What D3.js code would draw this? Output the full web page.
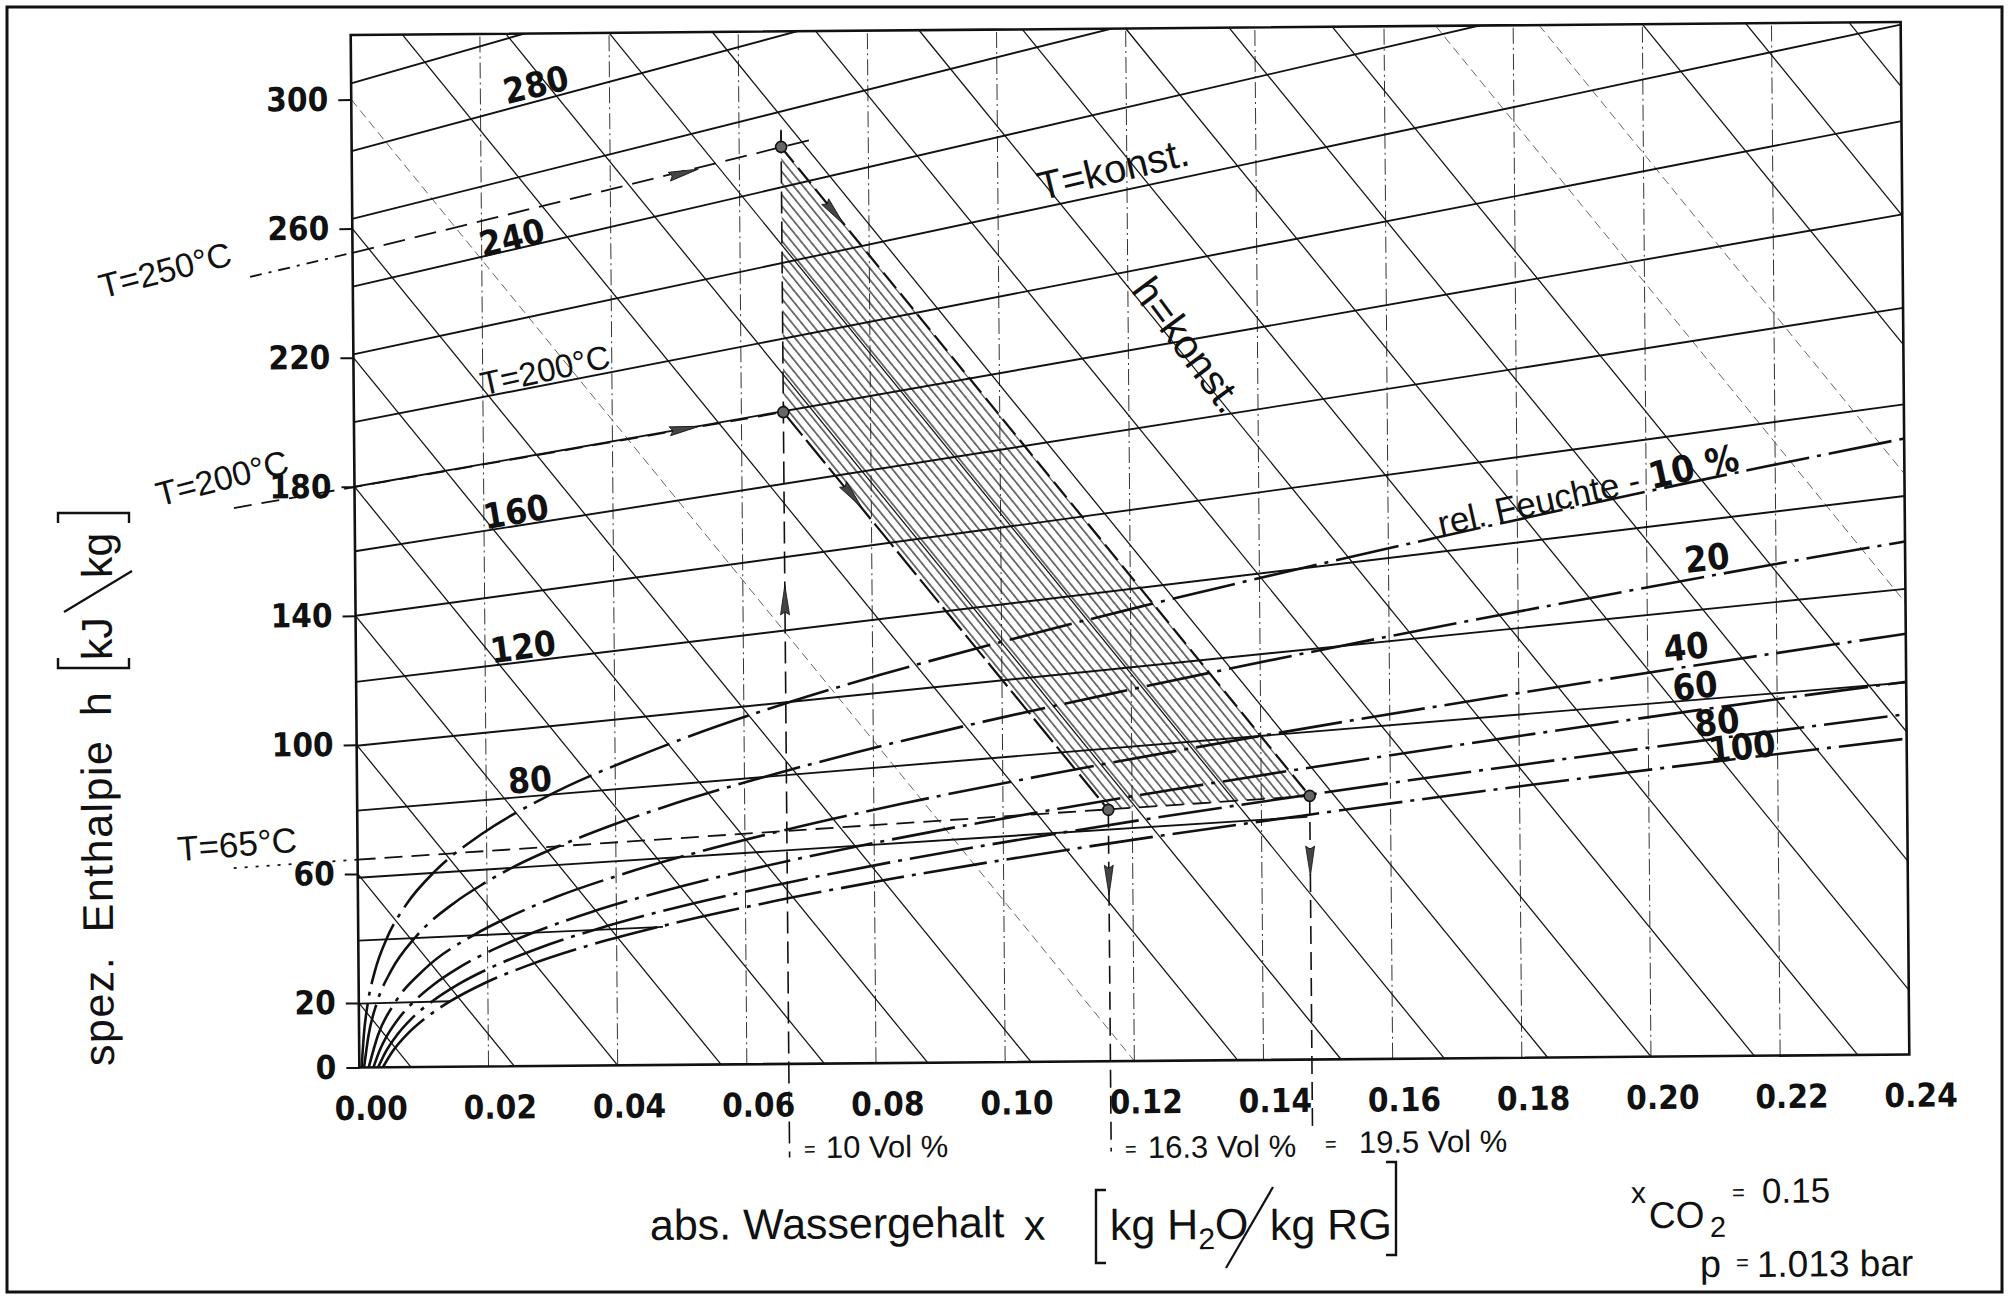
<!DOCTYPE html>
<html><head><meta charset="utf-8">
<script src="https://cdn.jsdelivr.net/npm/d3@7"></script>
<style>html,body{margin:0;padding:0;background:#fff}svg{display:block}</style>
</head><body>
<svg id="c" width="2016" height="1296"></svg>
<script>
// ================= DATA =================
const xTicks=[0,0.02,0.04,0.06,0.08,0.10,0.12,0.14,0.16,0.18,0.20,0.22,0.24];
const xTickLabels=["0.00","0.02","0.04","0.06","0.08","0.10","0.12","0.14","0.16","0.18","0.20","0.22","0.24"];
const yTicks=[0,20,60,100,140,180,220,260,300];
const yTickLabels=["0","20","60","100","140","180","220","260","300"];

// lines of constant enthalpy h (kJ/kg)
const hLines=[20,60,100,140,180,220,260,300,340,380,420,460,500,540,580,620,660,700,740,780,820,860,900];
const hFaint=[300,740,780];

// isotherms (T in °C): value at x=0 and at the end point
const isoT=[20,40,60,80,100,120,140,160,180,200,220,240,260,280,300];
const isoY0=[19.8,39.3,58.8,79.6,99.7,119.5,140,160,180,200,221,242,263,284,305];
const isoXend=[0.0142,0.0472,0.1471,0.24,0.24,0.24,0.24,0.24,0.24,0.24,0.24,0.24,0.24,0.24,0.24];
const isoYend=[20.3,42.8,75.2,115.3,144.3,173.1,201.5,231.4,260.4,289.3,319.2,349.1,379.1,409.0,438.9];

// relative humidity curves [x, h-value]
const phiLevels=[10,20,40,60,80,100];
const phi10=[[0.00036,0],[0.00073,9.9],[0.00139,19.9],[0.00253,29.8],[0.00441,39.9],[0.00741,50.2],[0.01205,60.8],[0.01907,71.8],[0.02946,83.6],[0.04466,96.6],[0.06676,111.9],[0.08131,120.4],[0.09893,129.7],[0.1203,140.2],[0.14638,152.2],[0.17845,166.1],[0.21832,182.5],[0.24,190.9]];
const phi20=[[0.00073,0],[0.00146,9.9],[0.00278,19.9],[0.00507,30.0],[0.00888,40.3],[0.015,50.9],[0.01927,56.4],[0.0246,62.2],[0.03121,68.1],[0.03939,74.4],[0.04949,81.2],[0.06197,88.4],[0.07739,96.4],[0.09651,105.3],[0.12033,115.3],[0.15022,127.2],[0.18812,141.2],[0.23691,158.0],[0.24,159.0]];
const phi40=[[0.00145,0],[0.00292,9.95],[0.00559,20.0],[0.01023,30.3],[0.01802,40.9],[0.02363,46.5],[0.03076,52.4],[0.03982,58.5],[0.0513,65.1],[0.06584,72.3],[0.08431,80.3],[0.10788,89.3],[0.13821,99.8],[0.1777,112.3],[0.23002,127.6],[0.24,130.4]];
const phi60=[[0.00218,0],[0.00312,5.0],[0.0044,10.0],[0.00612,15.0],[0.00843,20.1],[0.01148,25.3],[0.01548,30.6],[0.02069,36.0],[0.02744,41.6],[0.03615,47.6],[0.04736,53.9],[0.06178,60.8],[0.08038,68.4],[0.10449,77.0],[0.13602,87.0],[0.1778,99.1],[0.23431,114.1],[0.24,115.5]];
const phi80=[[0.00291,0],[0.00416,5.0],[0.00588,10.0],[0.00819,15.1],[0.01129,20.2],[0.01541,25.5],[0.02082,30.9],[0.02791,36.5],[0.03716,42.4],[0.04919,48.7],[0.06485,55.5],[0.0853,63.2],[0.11218,71.9],[0.1479,82.2],[0.19618,94.8],[0.24,105.5]];
const phi100=[[0.00364,0],[0.00521,5.0],[0.00736,10.0],[0.01028,15.1],[0.01418,20.3],[0.01938,25.7],[0.02625,31.2],[0.0353,37.0],[0.04718,43.1],[0.06277,49.8],[0.08331,57.3],[0.11055,65.8],[0.14711,75.8],[0.19702,88.2],[0.24,97.9]];
const phiLabels=["20","40","60","80","100"];

// process points
const P1=[0.0665,284.2], P2=[0.0665,202.0], P3=[0.1163,77.9], P4=[0.1475,81.7];
const lineT250=[[-0.0159,245.3],[0.0715,286.5]];
const lineT180=[[-0.0187,173.7],[0.0665,202.0]];
const lineT65=[[-0.0192,62.1],[0.1475,81.7]];
const vLine10=[[0.0665,289],[0.0665,-29]];
const vLine163=[[0.1163,77.9],[0.1163,-28]];
const vLine195=[[0.1475,81.7],[0.1475,-21]];
// arrows: [position, a point it points towards]
const arrowMarks=[
  [[0.0514,276.4],[0.0715,286.5]],
  [[0.0512,197.1],[0.0665,202.0]],
  [[0.0665,143.8],[0.0665,200]],
  [[0.0747,263.5],[0.1475,81.7]],
  [[0.0771,175.8],[0.1163,77.9]],
  [[0.1163,56.1],[0.1163,0]],
  [[0.1475,61.5],[0.1475,0]]
];

// ================= DRAW =================
const W=2016,H=1296;
const FN="'Liberation Sans Narrow','Arial Narrow','DejaVu Sans Condensed',sans-serif";
const FR="'Liberation Sans',Arial,'DejaVu Sans',sans-serif";
const INK="#111";
const svg=d3.select('#c');
svg.append('rect').attr('width',W).attr('height',H).attr('fill','#fff');
svg.append('rect').attr('x',7).attr('y',7).attr('width',1995).attr('height',1285)
  .attr('fill','none').attr('stroke',INK).attr('stroke-width',3);

const ROT=-0.48, RC=[1130,545];
const g=svg.append('g').attr('transform',`rotate(${ROT},${RC[0]},${RC[1]})`);
function unrot(px,py){
  const a=-ROT*Math.PI/180, dx=px-RC[0], dy=py-RC[1];
  return [RC[0]+dx*Math.cos(a)-dy*Math.sin(a), RC[1]+dx*Math.sin(a)+dy*Math.cos(a)];
}

const X=d3.scaleLinear().domain([0,0.24]).range([355,1905]);
const Y=d3.scaleLinear().domain([0,320]).range([1061,28.5]);
const line=d3.line().x(d=>X(d[0])).y(d=>Y(d[1]));
const curve=d3.line().x(d=>X(d[0])).y(d=>Y(d[1])).curve(d3.curveMonotoneX);

const defs=svg.append('defs');
defs.append('clipPath').attr('id','plot').append('rect')
  .attr('x',X(0)).attr('y',Y(320)).attr('width',X(0.24)-X(0)).attr('height',Y(0)-Y(320));
// hatch pattern parallel to h = const lines
const hdx=X(0.01)-X(0), hdy=Y(0)-Y(25);
const hAng=Math.atan2(hdy,hdx)*180/Math.PI;
const pat=defs.append('pattern').attr('id','hatch').attr('patternUnits','userSpaceOnUse')
  .attr('width',7.3).attr('height',30).attr('patternTransform',`rotate(${hAng-90})`);
pat.append('line').attr('x1',3.6).attr('x2',3.6).attr('y1',-1).attr('y2',31)
  .attr('stroke',INK).attr('stroke-width',1.15);

const pg=g.append('g').attr('clip-path','url(#plot)');

// vertical grid
pg.selectAll('.vg').data(xTicks.filter(d=>d>0&&d<0.24)).enter().append('line')
  .attr('x1',d=>X(d)).attr('x2',d=>X(d)).attr('y1',Y(0)).attr('y2',Y(320))
  .attr('stroke','#333').attr('stroke-width',1).attr('stroke-dasharray','16,4,2,4');

// h = const lines
const K=2500;
function hSeg(h){
  const a=h<=320?[0,h]:[(h-320)/K,320];
  const yr=h-K*0.24;
  const b=yr>=0?[0.24,yr]:[h/K,0];
  return [a,b];
}
pg.selectAll('.hl').data(hLines).enter().append('path')
  .attr('d',d=>line(hSeg(d))).attr('fill','none')
  .attr('stroke',d=>hFaint.includes(d)?'#555':INK)
  .attr('stroke-width',d=>hFaint.includes(d)?0.9:1.25)
  .attr('stroke-dasharray',d=>hFaint.includes(d)?'9,5':null);

// isotherms
pg.selectAll('.iso').data(isoT.map((t,i)=>[[0,isoY0[i]],[isoXend[i],isoYend[i]]])).enter().append('path')
  .attr('d',d=>line(d)).attr('fill','none').attr('stroke',INK).attr('stroke-width',1.9);

// hatched process area
pg.append('path').attr('d',line([P1,P4,P3,P2])+'Z').attr('fill','url(#hatch)').attr('stroke','none');

// relative humidity curves
const phiData=[phi10,phi20,phi40,phi60,phi80,phi100];
pg.selectAll('.phi').data(phiData).enter().append('path')
  .attr('d',d=>curve(d)).attr('fill','none').attr('stroke',INK).attr('stroke-width',2.6)
  .attr('stroke-dasharray','64,8,4,8');

// process boundary lines
pg.append('path').attr('d',line([P1,P4])).attr('fill','none').attr('stroke',INK).attr('stroke-width',2).attr('stroke-dasharray','20,7');
pg.append('path').attr('d',line([P2,P3])).attr('fill','none').attr('stroke',INK).attr('stroke-width',2.2).attr('stroke-dasharray','30,6');

// leader lines (extend outside plot)
function dashed(pts,dash,w){g.append('path').attr('d',line(pts)).attr('fill','none').attr('stroke',INK).attr('stroke-width',w||1.8).attr('stroke-dasharray',dash);}
dashed([lineT250[0],[0,252.5]],'12,7,3,7');
dashed([[0,252.5],lineT250[1]],'22,10');
dashed(lineT180,'18,10');
dashed([lineT65[0],[0,64.4]],'3,8');
dashed([[0,64.4],lineT65[1]],'18,9');
dashed(vLine10,'22,8',1.6);
dashed(vLine163,'18,8',1.6);
dashed(vLine195,'18,8',1.6);
g.append('path').attr('d',line([P1,[0.0665,289.5]])).attr('stroke',INK).attr('stroke-width',1.6);

// points
g.selectAll('.pt').data([P1,P2,P3,P4]).enter().append('circle')
  .attr('cx',d=>X(d[0])).attr('cy',d=>Y(d[1])).attr('r',5.5)
  .attr('fill','#666').attr('stroke',INK).attr('stroke-width',1.6);

// arrows
arrowMarks.forEach(([p,q])=>{
  const x0=X(p[0]),y0=Y(p[1]),ang=Math.atan2(Y(q[1])-y0,X(q[0])-x0)*180/Math.PI;
  g.append('path').attr('d','M15,0 L-15,-4.5 L-12,0 L-15,4.5 Z')
   .attr('transform',`translate(${x0},${y0}) rotate(${ang})`)
   .attr('fill','#444').attr('stroke',INK).attr('stroke-width',0.8);
});

// plot frame
g.append('rect').attr('x',X(0)).attr('y',Y(320)).attr('width',X(0.24)-X(0)).attr('height',Y(0)-Y(320))
  .attr('fill','none').attr('stroke',INK).attr('stroke-width',2.6);

// axes
const ya=g.append('g').attr('transform',`translate(${X(0)},0)`)
  .call(d3.axisLeft(Y).tickValues(yTicks).tickFormat((d,i)=>yTickLabels[i]).tickSize(13).tickPadding(10).tickSizeOuter(0));
ya.select('.domain').remove();
ya.selectAll('line').attr('stroke',INK).attr('stroke-width',2);
ya.selectAll('text').attr('font-family',FN).attr('font-weight','bold').attr('font-size',33).attr('fill',INK);

const xa=g.append('g').attr('transform',`translate(0,${Y(0)})`)
  .call(d3.axisBottom(X).tickValues(xTicks).tickFormat((d,i)=>xTickLabels[i]).tickSize(0).tickPadding(29).tickSizeOuter(0));
xa.select('.domain').remove();
xa.selectAll('text').attr('dx',11).attr('font-family',FN).attr('font-weight','bold').attr('font-size',33).attr('fill',INK);

// ---- labels ----
function lab(t,mx,my,rot,size,weight,fam){
  const p=unrot(mx,my);
  return g.append('text').attr('transform',`translate(${p[0]},${p[1]}) rotate(${rot})`)
   .attr('text-anchor','middle').attr('dominant-baseline','central')
   .attr('font-size',size).attr('font-weight',weight).attr('font-family',fam).attr('fill',INK).text(t);
}
function labS(t,mx,my,size,weight,fam){
  const p=unrot(mx,my);
  return g.append('text').attr('x',p[0]).attr('y',p[1]).attr('font-size',size)
   .attr('font-weight',weight).attr('font-family',fam).attr('fill',INK).text(t);
}
lab('280',536,85,-13,35,'bold',FN);
lab('240',512,238,-13,35,'bold',FN);
lab('T=200°C',545,370,-12,33,'normal',FR);
lab('160',516,512,-9,35,'bold',FN);
lab('120',523,647,-7,35,'bold',FN);
lab('80',530,780,-4,35,'bold',FN);
lab('T=250°C',165,270,-14,34,'normal',FR);
lab('T=200°C',222,478,-14,34,'normal',FR);
lab('T=65°C',237,844,-4,35,'normal',FR);
lab('T=konst.',1113,169,-13,40,'normal',FR);
lab('h=konst.',1188,345,54,41,'normal',FR);
const rf=lab('',1588,490,-12,35,'normal',FR);
rf.append('tspan').text('rel. Feuchte - ');
rf.append('tspan').attr('font-weight','bold').attr('font-family',FN).attr('font-size',37).text('10 %');
const phiLabPos=[[1707,558],[1686,647],[1695,686],[1717,722],[1742,747]];
phiLabels.forEach((t,i)=>lab(t,phiLabPos[i][0],phiLabPos[i][1],-6,36,'bold',FN));

// vol % labels
labS('=',804,1156,20,'normal',FR); labS('10 Vol %',826,1158,31,'normal',FR);
labS('=',1125,1156,20,'normal',FR); labS('16.3 Vol %',1148,1158,31,'normal',FR);
labS('=',1325,1151,20,'normal',FR); labS('19.5 Vol %',1359,1153,31,'normal',FR);

// x axis title
labS('abs. Wassergehalt',650,1240,43,'normal',FR);
labS('x',1024,1240,43,'normal',FR);
const kh=labS('',1110,1240,43,'normal',FR);
kh.append('tspan').text('kg H');
kh.append('tspan').attr('font-size',30).attr('dy',10).text('2');
kh.append('tspan').attr('dy',-10).text('O');
labS('kg RG',1270,1240,43,'normal',FR);
function pathS(pts,w){g.append('path').attr('d',d3.line()(pts.map(p=>unrot(p[0],p[1])))).attr('fill','none').attr('stroke',INK).attr('stroke-width',w||2.4);}
pathS([[1106,1190],[1096,1190],[1096,1263],[1106,1263]]);
pathS([[1386,1162],[1396,1162],[1396,1255],[1386,1255]]);
pathS([[1226,1268],[1273,1187]],2.2);

// y axis title
(function(){
  const p=unrot(114,1066);
  g.append('text').attr('transform',`translate(${p[0]},${p[1]}) rotate(-90)`)
   .attr('font-size',43).attr('font-family',FR).attr('fill',INK)
   .attr('letter-spacing',1.5).attr('word-spacing',10).text('spez. Enthalpie h');
  const q=unrot(112,660);
  g.append('text').attr('transform',`translate(${q[0]},${q[1]}) rotate(-90)`)
   .attr('font-size',43).attr('font-family',FR).attr('fill',INK).text('kJ');
  const r=unrot(112,578);
  g.append('text').attr('transform',`translate(${r[0]},${r[1]}) rotate(-90)`)
   .attr('font-size',43).attr('font-family',FR).attr('fill',INK).text('kg');
})();
pathS([[58,658],[58,668],[129,668],[129,658]]);
pathS([[58,523],[58,513],[129,513],[129,523]]);
pathS([[132,571],[64,612]],2.2);

// bottom right
labS('x',1631,1203,30,'normal',FR);
labS('CO',1649,1228,37,'normal',FR);
labS('2',1710,1237,29,'normal',FR);
labS('=',1732,1200,22,'normal',FR);
labS('0.15',1762,1203,35,'normal',FR);
labS('p',1700,1277,38,'normal',FR);
labS('=',1736,1270,22,'normal',FR);
labS('1.013 bar',1757,1277,37,'normal',FR);
</script>
</body></html>
